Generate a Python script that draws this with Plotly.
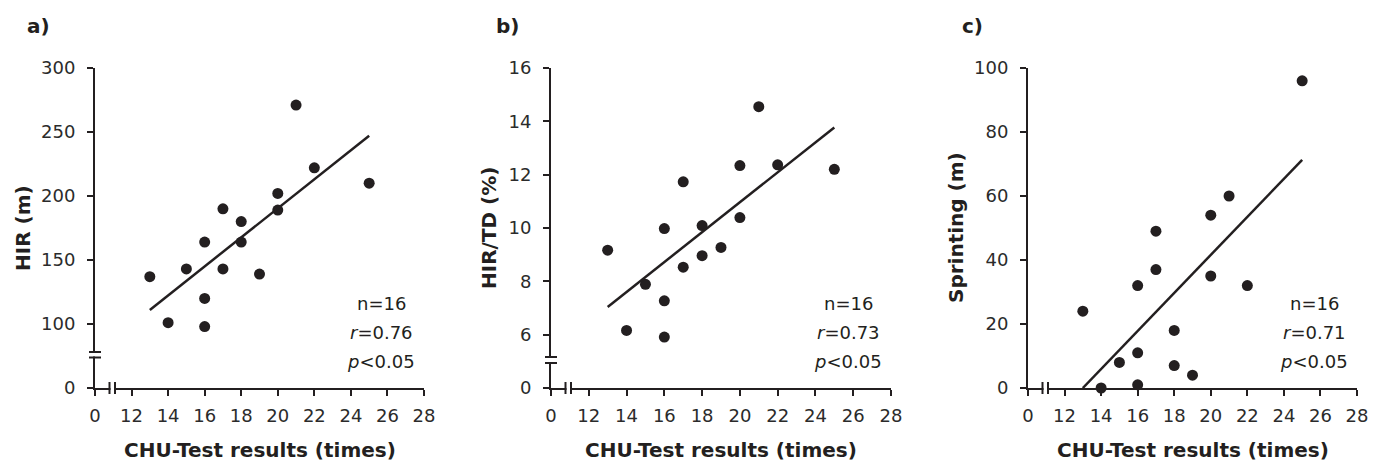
from __future__ import annotations

import plotly.graph_objects as go

WIDTH, HEIGHT = 1386, 462
INK = "#231f20"
FONT = "DejaVu Sans"

# CHU-Test results (times) for the 16 players
chu_times = [13, 14, 15, 16, 16, 16, 17, 17, 18, 18, 19, 20, 20, 21, 22, 25]
hir_m = [137, 101, 143, 164, 120, 98, 190, 143, 180, 164, 139, 202, 189, 271, 222, 210]
hir_td_pct = [9.17, 6.16, 7.89, 9.98, 7.27, 5.91, 11.73, 8.53, 10.09, 8.96,
              9.27, 12.34, 10.39, 14.55, 12.37, 12.2]
sprinting_m = [24, 0, 8, 32, 11, 1, 49, 37, 18, 7, 4, 54, 35, 60, 32, 96]

# regression lines, read at both ends
fit_x = [13, 25]
hir_fit = [111, 247]
hir_td_fit = [7.04, 13.77]
sprinting_fit = [0, 71.3]

panel_labels = ["a)", "b)", "c)"]
y_titles = ["HIR (m)", "HIR/TD (%)", "Sprinting (m)"]
x_title = "CHU-Test results (times)"
n_text = "n=16"
r_values = ["0.76", "0.73", "0.71"]
p_value = "0.05"

x_tickvals = [10, 12, 14, 16, 18, 20, 22, 24, 26, 28]
x_ticktext = ["0", "12", "14", "16", "18", "20", "22", "24", "26", "28"]

hir_tickvals = [50, 100, 150, 200, 250, 300]
hir_ticktext = ["0", "100", "150", "200", "250", "300"]
hir_td_tickvals = [4, 6, 8, 10, 12, 14, 16]
hir_td_ticktext = ["0", "6", "8", "10", "12", "14", "16"]
sprint_tickvals = [0, 20, 40, 60, 80, 100]
sprint_ticktext = ["0", "20", "40", "60", "80", "100"]

# pixel layout of the three panels: left, right, y-break offsets (px above the x axis)
PLOT_TOP, PLOT_BOTTOM = 68, 388
panels = [
    dict(left=95, right=424, y=hir_m, fit=hir_fit, yvals=hir_tickvals,
         ytext=hir_ticktext, ybreak=(30.5, 36), label_x=25, title_x=23),
    dict(left=551, right=891, y=hir_td_pct, fit=hir_td_fit, yvals=hir_td_tickvals,
         ytext=hir_td_ticktext, ybreak=(25, 31), label_x=494, title_x=489),
    dict(left=1028, right=1357, y=sprinting_m, fit=sprinting_fit, yvals=sprint_tickvals,
         ytext=sprint_ticktext, ybreak=None, label_x=960, title_x=956),
]
X_BREAK = (14.5, 20)


def px_x(v: float) -> float:
    return v / WIDTH


def px_y(v: float) -> float:
    return 1 - v / HEIGHT


def break_shapes(xref: str, yref: str, vertical_axis: bool, offsets) -> list[dict]:
    """Two short strokes across an axis with the axis line blanked between them."""
    lo, hi = offsets
    base = dict(xref=xref, yref=yref, xsizemode="pixel", ysizemode="pixel",
                xanchor=0, yanchor=0, layer="above")
    if vertical_axis:
        return [
            dict(base, type="rect", x0=-4, x1=4, y0=lo + 1, y1=hi - 1,
                 fillcolor="white", line_width=0),
            dict(base, type="line", x0=-6, x1=6, y0=lo, y1=lo, line=dict(color=INK, width=2)),
            dict(base, type="line", x0=-6, x1=6, y0=hi, y1=hi, line=dict(color=INK, width=2)),
        ]
    return [
        dict(base, type="rect", x0=lo + 1, x1=hi - 1, y0=-4, y1=4,
             fillcolor="white", line_width=0),
        dict(base, type="line", x0=lo, x1=lo, y0=-6, y1=6, line=dict(color=INK, width=2)),
        dict(base, type="line", x0=hi, x1=hi, y0=-6, y1=6, line=dict(color=INK, width=2)),
    ]


fig = go.Figure()
shapes: list[dict] = []
annotations: list[dict] = []
axis_common = dict(
    showline=True, linecolor=INK, linewidth=2, showgrid=False, zeroline=False,
    ticks="outside", ticklen=6, tickwidth=2, tickcolor=INK,
    tickfont=dict(family=FONT, size=18, color="#2b2b2b"), fixedrange=True,
)

for i, panel in enumerate(panels):
    suffix = "" if i == 0 else str(i + 1)
    xa, ya = f"x{suffix}", f"y{suffix}"
    fig.add_trace(go.Scatter(
        x=chu_times, y=panel["y"], mode="markers", xaxis=xa, yaxis=ya,
        marker=dict(color=INK, size=11), cliponaxis=False, showlegend=False,
    ))
    fig.add_trace(go.Scatter(
        x=fit_x, y=panel["fit"], mode="lines", xaxis=xa, yaxis=ya,
        line=dict(color=INK, width=2.5), cliponaxis=False, showlegend=False,
    ))
    fig.update_layout({
        f"xaxis{suffix}": dict(
            axis_common, domain=[px_x(panel["left"]), px_x(panel["right"])],
            range=[10, 28], tickvals=x_tickvals, ticktext=x_ticktext, anchor=ya,
            ticklabelstandoff=4,
        ),
        f"yaxis{suffix}": dict(
            axis_common, domain=[px_y(PLOT_BOTTOM), px_y(PLOT_TOP)],
            range=[panel["yvals"][0], panel["yvals"][-1]],
            tickvals=panel["yvals"], ticktext=panel["ytext"], anchor=xa,
            ticklabelstandoff=8,
        ),
    })

    shapes += break_shapes(f"{xa} domain", f"{ya} domain", False, X_BREAK)
    if panel["ybreak"]:
        shapes += break_shapes(f"{xa} domain", f"{ya} domain", True, panel["ybreak"])

    centre = (panel["left"] + panel["right"]) / 2
    stats_x = px_x(panel["right"] - 43)
    annotations += [
        dict(text=f"<b>{panel_labels[i]}</b>", x=px_x(panel["label_x"]), y=px_y(26),
             xanchor="left", yanchor="middle", font=dict(size=20)),
        dict(text=f"<b>{y_titles[i]}</b>", x=px_x(panel["title_x"]),
             y=px_y((PLOT_TOP + PLOT_BOTTOM) / 2), textangle=-90,
             xanchor="center", yanchor="middle", font=dict(size=20)),
        dict(text=f"<b>{x_title}</b>", x=px_x(centre), y=px_y(450),
             xanchor="center", yanchor="middle", font=dict(size=20)),
        dict(text=n_text, x=stats_x, y=px_y(303), xanchor="center", yanchor="middle"),
        dict(text=f"<i>r</i>={r_values[i]}", x=stats_x, y=px_y(332),
             xanchor="center", yanchor="middle"),
        dict(text=f"<i>p</i>&lt;{p_value}", x=stats_x, y=px_y(361),
             xanchor="center", yanchor="middle"),
    ]

for ann in annotations:
    ann.update(xref="paper", yref="paper", showarrow=False)
    ann.setdefault("font", {})
    ann["font"] = dict(dict(family=FONT, size=18, color=INK), **ann["font"])

fig.update_layout(
    width=WIDTH, height=HEIGHT,
    margin=dict(l=0, r=0, t=0, b=0, autoexpand=False),
    paper_bgcolor="white", plot_bgcolor="white",
    shapes=shapes, annotations=annotations,
    font=dict(family=FONT, color=INK),
    hovermode=False,
)

# the page's default body margin would push the whole figure 8px down and right
fig.write_html(
    "out.html",
    config={"displayModeBar": False},
    post_script="document.body.style.margin = '0';",
)
